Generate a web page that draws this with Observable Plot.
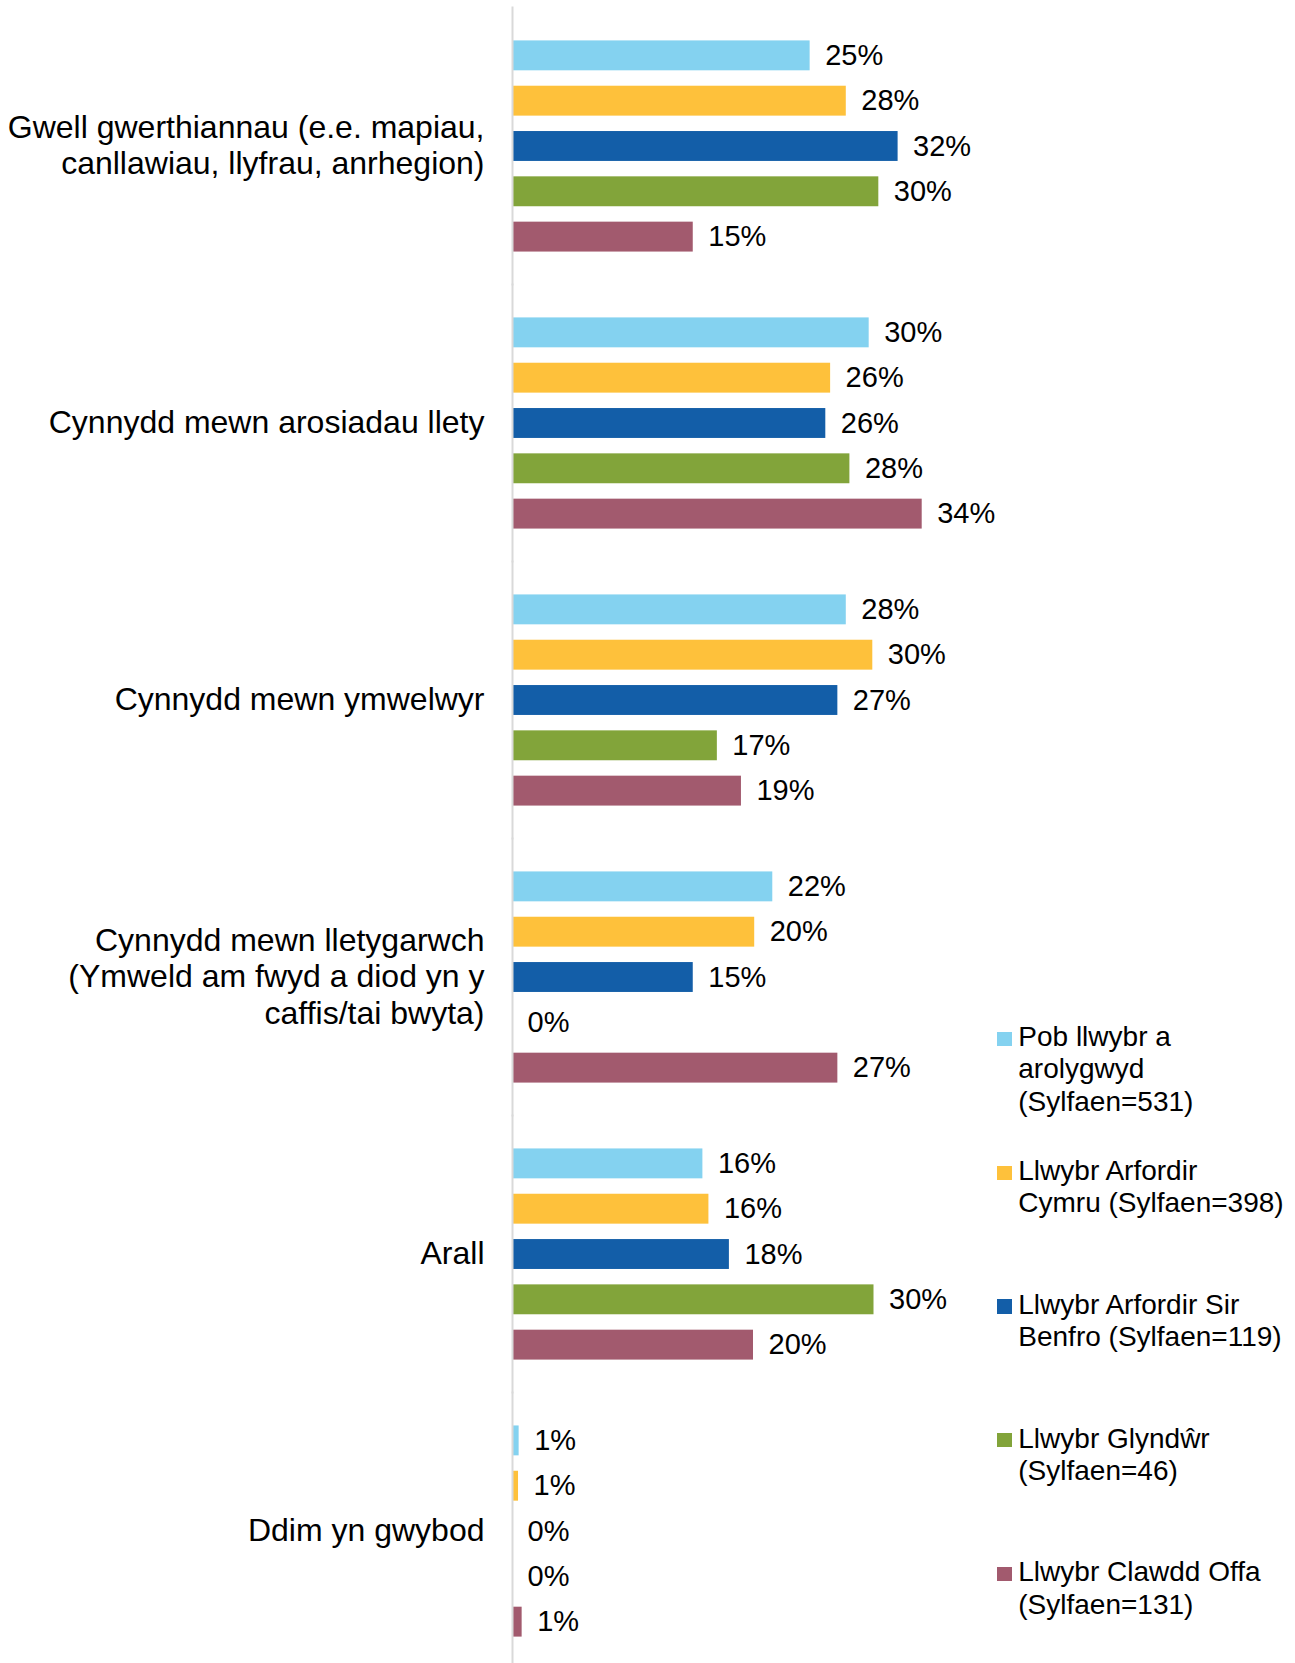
<!DOCTYPE html>
<html>
<head>
<meta charset="utf-8">
<script src="https://cdn.jsdelivr.net/npm/d3@7"></script>
<script src="https://cdn.jsdelivr.net/npm/@observablehq/plot@0.6"></script>
<style>
  html, body { margin: 0; padding: 0; background: #fff; }
  #wrap { position: relative; width: 1295px; height: 1663px; font-family: "Liberation Sans", Arial, sans-serif; }
  #wrap svg { display: block; }
  .lg-sw { position: absolute; width: 14.4px; height: 14.4px; }
  .lg-tx { position: absolute; white-space: pre; font-size: 28px; line-height: 32.3px; color: #000; }
</style>
</head>
<body>
<div id="wrap"></div>
<script>
// Categories (tick labels on the left), top to bottom
const categories = [
  "Gwell gwerthiannau (e.e. mapiau,\ncanllawiau, llyfrau, anrhegion)",
  "Cynnydd mewn arosiadau llety",
  "Cynnydd mewn ymwelwyr",
  "Cynnydd mewn lletygarwch\n(Ymweld am fwyd a diod yn y\ncaffis/tai bwyta)",
  "Arall",
  "Ddim yn gwybod"
];

// Series (legend labels)
const seriesNames = [
  "Pob llwybr a\narolygwyd\n(Sylfaen=531)",
  "Llwybr Arfordir\nCymru (Sylfaen=398)",
  "Llwybr Arfordir Sir\nBenfro (Sylfaen=119)",
  "Llwybr Glyndŵr\n(Sylfaen=46)",
  "Llwybr Clawdd Offa\n(Sylfaen=131)"
];

const seriesColors = ["#84D2F0", "#FEC13B", "#135EA8", "#82A43A", "#A25A6E"];

// Values (%) per series, in category order
const pobLlwybr     = [24.7, 29.6, 27.7, 21.6, 15.8, 0.55];
const arfordirCymru = [27.7, 26.4, 29.9, 20.1, 16.3, 0.5];
const sirBenfro     = [32.0, 26.0, 27.0, 15.0, 18.0, 0];
const glyndwr       = [30.4, 28.0, 17.0, 0,    30.0, 0];
const clawddOffa    = [15.0, 34.0, 19.0, 27.0, 20.0, 0.8];

const seriesValues = [pobLlwybr, arfordirCymru, sirBenfro, glyndwr, clawddOffa];

const rows = categories.flatMap((c, i) =>
  seriesNames.map((s, j) => ({category: c, series: s, value: seriesValues[j][i]}))
);

const FONT = '"Liberation Sans", Arial, sans-serif';

const chart = Plot.plot({
  width: 1295,
  height: 1663,
  marginLeft: 512,
  marginRight: 60,
  marginTop: 25,
  marginBottom: 11,
  style: {fontFamily: FONT, background: "white", color: "black", overflow: "visible"},
  x: {domain: [0, 60], axis: null},
  y: {domain: seriesNames, padding: 0.34, round: false, axis: null},
  fy: {domain: categories, paddingInner: 0.1265, paddingOuter: 0, round: false, axis: null},
  color: {domain: seriesNames, range: seriesColors},
  marks: [
    Plot.barX(rows, {fy: "category", y: "series", x: "value", fill: "series"}),
    Plot.ruleX(categories, {fy: d => d, x: () => 0, stroke: "#D9D9D9", strokeWidth: 2, insetTop: -18.5, insetBottom: -18.5}),
    Plot.text(rows, {
      fy: "category", y: "series", x: "value",
      text: d => `${Math.round(d.value)}%`,
      textAnchor: "start", dx: 15, fontSize: 29, fill: "black"
    }),
    Plot.text(categories, {
      fy: d => d, text: d => d,
      frameAnchor: "left", textAnchor: "end", dx: -28, dy: -2,
      fontSize: 32, lineHeight: 1.14, fill: "black"
    })
  ]
});

const wrap = document.getElementById("wrap");
wrap.appendChild(chart);

// Legend (vertical, right side)
const legendLeft = 997.3, legendTop = 1031.7, legendStep = 133.8;
seriesNames.forEach((name, i) => {
  const sw = document.createElement("div");
  sw.className = "lg-sw";
  sw.style.left = legendLeft + "px";
  sw.style.top = (legendTop + i * legendStep) + "px";
  sw.style.background = seriesColors[i];
  wrap.appendChild(sw);
  const tx = document.createElement("div");
  tx.className = "lg-tx";
  tx.style.left = (legendLeft + 21) + "px";
  tx.style.top = (legendTop - 10.5 + i * legendStep) + "px";
  tx.textContent = name;
  wrap.appendChild(tx);
});
</script>
</body>
</html>
